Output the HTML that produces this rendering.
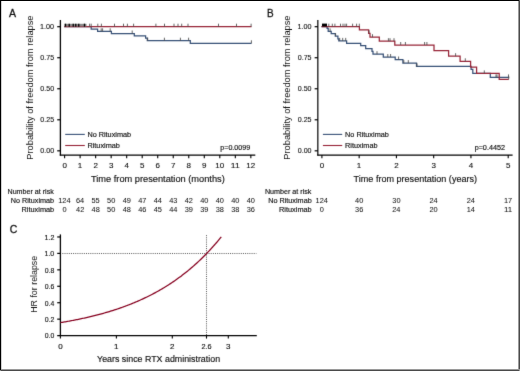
<!DOCTYPE html>
<html><head><meta charset="utf-8"><style>
html,body{margin:0;padding:0;background:#fff;}
body{width:520px;height:371px;overflow:hidden;font-family:"Liberation Sans",sans-serif;}
svg{display:block;}
</style></head><body>
<svg width="520" height="371" viewBox="0 0 520 371" font-family="Liberation Sans, sans-serif" style="will-change:transform">
<defs><filter id="bl" x="0" y="0" width="1" height="1" color-interpolation-filters="sRGB"><feConvolveMatrix order="3" kernelMatrix="0.01 0.07 0.01 0.07 0.68 0.07 0.01 0.07 0.01" edgeMode="duplicate"/></filter></defs>
<rect x="0" y="0" width="520" height="371" fill="#fff"/>
<g filter="url(#bl)">
<rect x="0" y="0" width="520" height="371" fill="#fff"/>
<line x1="60.40" y1="20.00" x2="60.40" y2="155.60" stroke="#000" stroke-width="1.3" />
<line x1="59.80" y1="155.07" x2="255.30" y2="155.07" stroke="#000" stroke-width="1.25" />
<line x1="57.20" y1="26.70" x2="60.40" y2="26.70" stroke="#000" stroke-width="1.2" />
<text x="40.05" y="28.80" font-size="8.0" text-anchor="start" fill="#111" stroke="#111" stroke-width="0.12" textLength="14.03" lengthAdjust="spacingAndGlyphs" >1.00</text>
<line x1="57.20" y1="57.73" x2="60.40" y2="57.73" stroke="#000" stroke-width="1.2" />
<text x="40.32" y="59.83" font-size="8.0" text-anchor="start" fill="#111" stroke="#111" stroke-width="0.12" textLength="13.77" lengthAdjust="spacingAndGlyphs" >0.75</text>
<line x1="57.20" y1="88.76" x2="60.40" y2="88.76" stroke="#000" stroke-width="1.2" />
<text x="40.32" y="90.86" font-size="8.0" text-anchor="start" fill="#111" stroke="#111" stroke-width="0.12" textLength="13.75" lengthAdjust="spacingAndGlyphs" >0.50</text>
<line x1="57.20" y1="119.79" x2="60.40" y2="119.79" stroke="#000" stroke-width="1.2" />
<text x="40.32" y="121.89" font-size="8.0" text-anchor="start" fill="#111" stroke="#111" stroke-width="0.12" textLength="13.77" lengthAdjust="spacingAndGlyphs" >0.25</text>
<line x1="57.20" y1="150.82" x2="60.40" y2="150.82" stroke="#000" stroke-width="1.2" />
<text x="40.32" y="152.92" font-size="8.0" text-anchor="start" fill="#111" stroke="#111" stroke-width="0.12" textLength="13.75" lengthAdjust="spacingAndGlyphs" >0.00</text>
<line x1="64.60" y1="155.00" x2="64.60" y2="158.20" stroke="#000" stroke-width="1.1" />
<text x="62.38" y="168.30" font-size="8.0" text-anchor="start" fill="#111" stroke="#111" stroke-width="0.12" textLength="4.45" lengthAdjust="spacingAndGlyphs" >0</text>
<line x1="80.12" y1="155.00" x2="80.12" y2="158.20" stroke="#000" stroke-width="1.1" />
<text x="77.79" y="168.30" font-size="8.0" text-anchor="start" fill="#111" stroke="#111" stroke-width="0.12" textLength="4.45" lengthAdjust="spacingAndGlyphs" >1</text>
<line x1="95.64" y1="155.00" x2="95.64" y2="158.20" stroke="#000" stroke-width="1.1" />
<text x="93.42" y="168.30" font-size="8.0" text-anchor="start" fill="#111" stroke="#111" stroke-width="0.12" textLength="4.45" lengthAdjust="spacingAndGlyphs" >2</text>
<line x1="111.16" y1="155.00" x2="111.16" y2="158.20" stroke="#000" stroke-width="1.1" />
<text x="108.96" y="168.30" font-size="8.0" text-anchor="start" fill="#111" stroke="#111" stroke-width="0.12" textLength="4.45" lengthAdjust="spacingAndGlyphs" >3</text>
<line x1="126.68" y1="155.00" x2="126.68" y2="158.20" stroke="#000" stroke-width="1.1" />
<text x="124.48" y="168.30" font-size="8.0" text-anchor="start" fill="#111" stroke="#111" stroke-width="0.12" textLength="4.45" lengthAdjust="spacingAndGlyphs" >4</text>
<line x1="142.20" y1="155.00" x2="142.20" y2="158.20" stroke="#000" stroke-width="1.1" />
<text x="139.98" y="168.30" font-size="8.0" text-anchor="start" fill="#111" stroke="#111" stroke-width="0.12" textLength="4.45" lengthAdjust="spacingAndGlyphs" >5</text>
<line x1="157.72" y1="155.00" x2="157.72" y2="158.20" stroke="#000" stroke-width="1.1" />
<text x="155.47" y="168.30" font-size="8.0" text-anchor="start" fill="#111" stroke="#111" stroke-width="0.12" textLength="4.45" lengthAdjust="spacingAndGlyphs" >6</text>
<line x1="173.24" y1="155.00" x2="173.24" y2="158.20" stroke="#000" stroke-width="1.1" />
<text x="171.01" y="168.30" font-size="8.0" text-anchor="start" fill="#111" stroke="#111" stroke-width="0.12" textLength="4.45" lengthAdjust="spacingAndGlyphs" >7</text>
<line x1="188.76" y1="155.00" x2="188.76" y2="158.20" stroke="#000" stroke-width="1.1" />
<text x="186.54" y="168.30" font-size="8.0" text-anchor="start" fill="#111" stroke="#111" stroke-width="0.12" textLength="4.45" lengthAdjust="spacingAndGlyphs" >8</text>
<line x1="204.28" y1="155.00" x2="204.28" y2="158.20" stroke="#000" stroke-width="1.1" />
<text x="202.06" y="168.30" font-size="8.0" text-anchor="start" fill="#111" stroke="#111" stroke-width="0.12" textLength="4.45" lengthAdjust="spacingAndGlyphs" >9</text>
<line x1="219.80" y1="155.00" x2="219.80" y2="158.20" stroke="#000" stroke-width="1.1" />
<text x="215.20" y="168.30" font-size="8.0" text-anchor="start" fill="#111" stroke="#111" stroke-width="0.12" textLength="8.90" lengthAdjust="spacingAndGlyphs" >10</text>
<line x1="235.32" y1="155.00" x2="235.32" y2="158.20" stroke="#000" stroke-width="1.1" />
<text x="230.76" y="168.30" font-size="8.0" text-anchor="start" fill="#111" stroke="#111" stroke-width="0.12" textLength="8.90" lengthAdjust="spacingAndGlyphs" >11</text>
<line x1="250.84" y1="155.00" x2="250.84" y2="158.20" stroke="#000" stroke-width="1.1" />
<text x="246.29" y="168.30" font-size="8.0" text-anchor="start" fill="#111" stroke="#111" stroke-width="0.12" textLength="8.90" lengthAdjust="spacingAndGlyphs" >12</text>
<text x="90.99" y="181.60" font-size="9.5" text-anchor="start" fill="#111" stroke="#111" stroke-width="0.16" textLength="133.78" lengthAdjust="spacingAndGlyphs" >Time from presentation (months)</text>
<text x="-0.76" y="0" font-size="9.3" fill="#111" textLength="144.17" lengthAdjust="spacingAndGlyphs" transform="translate(32.7,158.9) rotate(-90)">Probability of freedom from relapse</text>
<text x="8.88" y="17.00" font-size="11.4" text-anchor="start" fill="#111" stroke="#111" stroke-width="0.3" textLength="7.04" lengthAdjust="spacingAndGlyphs" >A</text>
<line x1="65.20" y1="134.40" x2="84.80" y2="134.40" stroke="#375076" stroke-width="1.1" />
<line x1="65.20" y1="145.50" x2="84.80" y2="145.50" stroke="#972437" stroke-width="1.1" />
<text x="87.40" y="136.60" font-size="7.3" text-anchor="start" fill="#111" stroke="#111" stroke-width="0.16" textLength="43.70" lengthAdjust="spacingAndGlyphs" >No Rituximab</text>
<text x="87.40" y="147.70" font-size="7.3" text-anchor="start" fill="#111" stroke="#111" stroke-width="0.16" textLength="32.51" lengthAdjust="spacingAndGlyphs" >Rituximab</text>
<text x="220.24" y="150.40" font-size="7.3" text-anchor="start" fill="#111" stroke="#111" stroke-width="0.16" textLength="30.00" lengthAdjust="spacingAndGlyphs" >p=0.0099</text>
<text x="7.52" y="193.50" font-size="7.4" text-anchor="start" fill="#111" stroke="#111" stroke-width="0.16" textLength="46.27" lengthAdjust="spacingAndGlyphs" >Number at risk</text>
<text x="10.81" y="202.50" font-size="7.4" text-anchor="start" fill="#111" stroke="#111" stroke-width="0.16" textLength="43.29" lengthAdjust="spacingAndGlyphs" >No Rituximab</text>
<text x="21.60" y="211.50" font-size="7.4" text-anchor="start" fill="#111" stroke="#111" stroke-width="0.16" textLength="32.51" lengthAdjust="spacingAndGlyphs" >Rituximab</text>
<text x="58.25" y="202.50" font-size="7.4" text-anchor="start" fill="#111" stroke="#111" stroke-width="0.04" textLength="12.35" lengthAdjust="spacingAndGlyphs" >124</text>
<text x="75.92" y="202.50" font-size="7.4" text-anchor="start" fill="#111" stroke="#111" stroke-width="0.04" textLength="8.23" lengthAdjust="spacingAndGlyphs" >64</text>
<text x="91.53" y="202.50" font-size="7.4" text-anchor="start" fill="#111" stroke="#111" stroke-width="0.04" textLength="8.23" lengthAdjust="spacingAndGlyphs" >55</text>
<text x="107.04" y="202.50" font-size="7.4" text-anchor="start" fill="#111" stroke="#111" stroke-width="0.04" textLength="8.23" lengthAdjust="spacingAndGlyphs" >50</text>
<text x="122.65" y="202.50" font-size="7.4" text-anchor="start" fill="#111" stroke="#111" stroke-width="0.04" textLength="8.23" lengthAdjust="spacingAndGlyphs" >49</text>
<text x="138.19" y="202.50" font-size="7.4" text-anchor="start" fill="#111" stroke="#111" stroke-width="0.04" textLength="8.23" lengthAdjust="spacingAndGlyphs" >47</text>
<text x="153.63" y="202.50" font-size="7.4" text-anchor="start" fill="#111" stroke="#111" stroke-width="0.04" textLength="8.23" lengthAdjust="spacingAndGlyphs" >44</text>
<text x="169.20" y="202.50" font-size="7.4" text-anchor="start" fill="#111" stroke="#111" stroke-width="0.04" textLength="8.23" lengthAdjust="spacingAndGlyphs" >43</text>
<text x="184.75" y="202.50" font-size="7.4" text-anchor="start" fill="#111" stroke="#111" stroke-width="0.04" textLength="8.23" lengthAdjust="spacingAndGlyphs" >42</text>
<text x="200.22" y="202.50" font-size="7.4" text-anchor="start" fill="#111" stroke="#111" stroke-width="0.04" textLength="8.23" lengthAdjust="spacingAndGlyphs" >40</text>
<text x="215.74" y="202.50" font-size="7.4" text-anchor="start" fill="#111" stroke="#111" stroke-width="0.04" textLength="8.23" lengthAdjust="spacingAndGlyphs" >40</text>
<text x="231.26" y="202.50" font-size="7.4" text-anchor="start" fill="#111" stroke="#111" stroke-width="0.04" textLength="8.23" lengthAdjust="spacingAndGlyphs" >40</text>
<text x="246.78" y="202.50" font-size="7.4" text-anchor="start" fill="#111" stroke="#111" stroke-width="0.04" textLength="8.23" lengthAdjust="spacingAndGlyphs" >40</text>
<text x="62.54" y="211.50" font-size="7.4" text-anchor="start" fill="#111" stroke="#111" stroke-width="0.04" textLength="4.12" lengthAdjust="spacingAndGlyphs" >0</text>
<text x="76.11" y="211.50" font-size="7.4" text-anchor="start" fill="#111" stroke="#111" stroke-width="0.04" textLength="8.23" lengthAdjust="spacingAndGlyphs" >42</text>
<text x="91.60" y="211.50" font-size="7.4" text-anchor="start" fill="#111" stroke="#111" stroke-width="0.04" textLength="8.23" lengthAdjust="spacingAndGlyphs" >48</text>
<text x="107.04" y="211.50" font-size="7.4" text-anchor="start" fill="#111" stroke="#111" stroke-width="0.04" textLength="8.23" lengthAdjust="spacingAndGlyphs" >50</text>
<text x="122.64" y="211.50" font-size="7.4" text-anchor="start" fill="#111" stroke="#111" stroke-width="0.04" textLength="8.23" lengthAdjust="spacingAndGlyphs" >48</text>
<text x="138.16" y="211.50" font-size="7.4" text-anchor="start" fill="#111" stroke="#111" stroke-width="0.04" textLength="8.23" lengthAdjust="spacingAndGlyphs" >46</text>
<text x="153.67" y="211.50" font-size="7.4" text-anchor="start" fill="#111" stroke="#111" stroke-width="0.04" textLength="8.23" lengthAdjust="spacingAndGlyphs" >45</text>
<text x="169.15" y="211.50" font-size="7.4" text-anchor="start" fill="#111" stroke="#111" stroke-width="0.04" textLength="8.23" lengthAdjust="spacingAndGlyphs" >44</text>
<text x="184.68" y="211.50" font-size="7.4" text-anchor="start" fill="#111" stroke="#111" stroke-width="0.04" textLength="8.23" lengthAdjust="spacingAndGlyphs" >39</text>
<text x="200.20" y="211.50" font-size="7.4" text-anchor="start" fill="#111" stroke="#111" stroke-width="0.04" textLength="8.23" lengthAdjust="spacingAndGlyphs" >39</text>
<text x="215.70" y="211.50" font-size="7.4" text-anchor="start" fill="#111" stroke="#111" stroke-width="0.04" textLength="8.23" lengthAdjust="spacingAndGlyphs" >38</text>
<text x="231.22" y="211.50" font-size="7.4" text-anchor="start" fill="#111" stroke="#111" stroke-width="0.04" textLength="8.23" lengthAdjust="spacingAndGlyphs" >38</text>
<text x="246.75" y="211.50" font-size="7.4" text-anchor="start" fill="#111" stroke="#111" stroke-width="0.04" textLength="8.23" lengthAdjust="spacingAndGlyphs" >36</text>
<path d="M64.2,26.7 H91.2 V29.1 H97.6 V31.3 H111.4 V33.5 H134.3 V35.8 H145.6 V38.1 H147.3 V40.7 H190.3 V43.3 H251.5" fill="none" stroke="#375076" stroke-width="1.25"/>
<path d="M64.2,26.7 H251.5" fill="none" stroke="#972437" stroke-width="1.25"/>
<rect x="64.3" y="23.8" width="22.2" height="2.6" fill="#8a8a8a"/>
<line x1="65.50" y1="23.70" x2="65.50" y2="26.70" stroke="#000" stroke-width="1.3" />
<line x1="69.25" y1="23.70" x2="69.25" y2="26.70" stroke="#000" stroke-width="1.3" />
<line x1="73.25" y1="23.70" x2="73.25" y2="26.70" stroke="#000" stroke-width="1.3" />
<line x1="75.75" y1="23.70" x2="75.75" y2="26.70" stroke="#000" stroke-width="1.3" />
<line x1="78.75" y1="23.70" x2="78.75" y2="26.70" stroke="#000" stroke-width="1.3" />
<line x1="84.50" y1="23.70" x2="84.50" y2="26.70" stroke="#000" stroke-width="1.3" />
<line x1="89.60" y1="23.70" x2="89.60" y2="26.70" stroke="#4a4a4a" stroke-width="0.85" />
<line x1="91.20" y1="23.70" x2="91.20" y2="26.70" stroke="#4a4a4a" stroke-width="0.85" />
<line x1="97.80" y1="23.70" x2="97.80" y2="26.70" stroke="#4a4a4a" stroke-width="0.85" />
<line x1="101.40" y1="23.70" x2="101.40" y2="26.70" stroke="#4a4a4a" stroke-width="0.85" />
<line x1="114.50" y1="23.70" x2="114.50" y2="26.70" stroke="#4a4a4a" stroke-width="0.85" />
<line x1="123.50" y1="23.70" x2="123.50" y2="26.70" stroke="#4a4a4a" stroke-width="0.85" />
<line x1="127.40" y1="23.70" x2="127.40" y2="26.70" stroke="#4a4a4a" stroke-width="0.85" />
<line x1="133.60" y1="23.70" x2="133.60" y2="26.70" stroke="#4a4a4a" stroke-width="0.85" />
<line x1="155.90" y1="23.70" x2="155.90" y2="26.70" stroke="#4a4a4a" stroke-width="0.85" />
<line x1="164.50" y1="23.70" x2="164.50" y2="26.70" stroke="#4a4a4a" stroke-width="0.85" />
<line x1="174.00" y1="23.70" x2="174.00" y2="26.70" stroke="#4a4a4a" stroke-width="0.85" />
<line x1="178.00" y1="23.70" x2="178.00" y2="26.70" stroke="#4a4a4a" stroke-width="0.85" />
<line x1="181.70" y1="23.70" x2="181.70" y2="26.70" stroke="#4a4a4a" stroke-width="0.85" />
<line x1="188.00" y1="23.70" x2="188.00" y2="26.70" stroke="#4a4a4a" stroke-width="0.85" />
<line x1="218.50" y1="23.70" x2="218.50" y2="26.70" stroke="#4a4a4a" stroke-width="0.85" />
<line x1="236.50" y1="23.70" x2="236.50" y2="26.70" stroke="#4a4a4a" stroke-width="0.85" />
<line x1="251.10" y1="23.70" x2="251.10" y2="26.70" stroke="#4a4a4a" stroke-width="0.85" />
<line x1="101.20" y1="28.30" x2="101.20" y2="31.30" stroke="#4a4a4a" stroke-width="0.85" />
<line x1="102.60" y1="28.30" x2="102.60" y2="31.30" stroke="#4a4a4a" stroke-width="0.85" />
<line x1="110.20" y1="28.30" x2="110.20" y2="31.30" stroke="#4a4a4a" stroke-width="0.85" />
<line x1="132.20" y1="30.50" x2="132.20" y2="33.50" stroke="#4a4a4a" stroke-width="0.85" />
<line x1="147.70" y1="37.70" x2="147.70" y2="40.70" stroke="#4a4a4a" stroke-width="0.85" />
<line x1="164.40" y1="37.70" x2="164.40" y2="40.70" stroke="#4a4a4a" stroke-width="0.85" />
<line x1="180.40" y1="37.70" x2="180.40" y2="40.70" stroke="#4a4a4a" stroke-width="0.85" />
<line x1="188.60" y1="37.70" x2="188.60" y2="40.70" stroke="#4a4a4a" stroke-width="0.85" />
<line x1="251.40" y1="40.30" x2="251.40" y2="43.30" stroke="#4a4a4a" stroke-width="0.85" />
<line x1="317.84" y1="20.00" x2="317.84" y2="155.60" stroke="#000" stroke-width="1.2" />
<line x1="317.24" y1="155.07" x2="512.60" y2="155.07" stroke="#000" stroke-width="1.25" />
<line x1="314.64" y1="26.70" x2="317.84" y2="26.70" stroke="#000" stroke-width="1.2" />
<text x="297.49" y="28.80" font-size="8.0" text-anchor="start" fill="#111" stroke="#111" stroke-width="0.12" textLength="14.03" lengthAdjust="spacingAndGlyphs" >1.00</text>
<line x1="314.64" y1="57.73" x2="317.84" y2="57.73" stroke="#000" stroke-width="1.2" />
<text x="297.76" y="59.83" font-size="8.0" text-anchor="start" fill="#111" stroke="#111" stroke-width="0.12" textLength="13.77" lengthAdjust="spacingAndGlyphs" >0.75</text>
<line x1="314.64" y1="88.76" x2="317.84" y2="88.76" stroke="#000" stroke-width="1.2" />
<text x="297.76" y="90.86" font-size="8.0" text-anchor="start" fill="#111" stroke="#111" stroke-width="0.12" textLength="13.75" lengthAdjust="spacingAndGlyphs" >0.50</text>
<line x1="314.64" y1="119.79" x2="317.84" y2="119.79" stroke="#000" stroke-width="1.2" />
<text x="297.76" y="121.89" font-size="8.0" text-anchor="start" fill="#111" stroke="#111" stroke-width="0.12" textLength="13.77" lengthAdjust="spacingAndGlyphs" >0.25</text>
<line x1="314.64" y1="150.82" x2="317.84" y2="150.82" stroke="#000" stroke-width="1.2" />
<text x="297.76" y="152.92" font-size="8.0" text-anchor="start" fill="#111" stroke="#111" stroke-width="0.12" textLength="13.75" lengthAdjust="spacingAndGlyphs" >0.00</text>
<line x1="321.90" y1="155.00" x2="321.90" y2="158.20" stroke="#000" stroke-width="1.1" />
<text x="319.68" y="168.30" font-size="8.0" text-anchor="start" fill="#111" stroke="#111" stroke-width="0.12" textLength="4.45" lengthAdjust="spacingAndGlyphs" >0</text>
<line x1="359.16" y1="155.00" x2="359.16" y2="158.20" stroke="#000" stroke-width="1.1" />
<text x="356.83" y="168.30" font-size="8.0" text-anchor="start" fill="#111" stroke="#111" stroke-width="0.12" textLength="4.45" lengthAdjust="spacingAndGlyphs" >1</text>
<line x1="396.42" y1="155.00" x2="396.42" y2="158.20" stroke="#000" stroke-width="1.1" />
<text x="394.20" y="168.30" font-size="8.0" text-anchor="start" fill="#111" stroke="#111" stroke-width="0.12" textLength="4.45" lengthAdjust="spacingAndGlyphs" >2</text>
<line x1="433.68" y1="155.00" x2="433.68" y2="158.20" stroke="#000" stroke-width="1.1" />
<text x="431.48" y="168.30" font-size="8.0" text-anchor="start" fill="#111" stroke="#111" stroke-width="0.12" textLength="4.45" lengthAdjust="spacingAndGlyphs" >3</text>
<line x1="470.94" y1="155.00" x2="470.94" y2="158.20" stroke="#000" stroke-width="1.1" />
<text x="468.74" y="168.30" font-size="8.0" text-anchor="start" fill="#111" stroke="#111" stroke-width="0.12" textLength="4.45" lengthAdjust="spacingAndGlyphs" >4</text>
<line x1="508.20" y1="155.00" x2="508.20" y2="158.20" stroke="#000" stroke-width="1.1" />
<text x="505.98" y="168.30" font-size="8.0" text-anchor="start" fill="#111" stroke="#111" stroke-width="0.12" textLength="4.45" lengthAdjust="spacingAndGlyphs" >5</text>
<text x="353.60" y="181.60" font-size="9.5" text-anchor="start" fill="#111" stroke="#111" stroke-width="0.16" textLength="123.46" lengthAdjust="spacingAndGlyphs" >Time from presentation (years)</text>
<text x="-0.76" y="0" font-size="9.3" fill="#111" textLength="144.17" lengthAdjust="spacingAndGlyphs" transform="translate(289.9,158.9) rotate(-90)">Probability of freedom from relapse</text>
<text x="266.98" y="16.80" font-size="11.4" text-anchor="start" fill="#111" stroke="#111" stroke-width="0.3" textLength="6.64" lengthAdjust="spacingAndGlyphs" >B</text>
<line x1="322.90" y1="134.40" x2="342.20" y2="134.40" stroke="#375076" stroke-width="1.1" />
<line x1="322.90" y1="145.50" x2="342.20" y2="145.50" stroke="#972437" stroke-width="1.1" />
<text x="345.10" y="136.60" font-size="7.3" text-anchor="start" fill="#111" stroke="#111" stroke-width="0.16" textLength="43.70" lengthAdjust="spacingAndGlyphs" >No Rituximab</text>
<text x="345.10" y="147.70" font-size="7.3" text-anchor="start" fill="#111" stroke="#111" stroke-width="0.16" textLength="32.51" lengthAdjust="spacingAndGlyphs" >Rituximab</text>
<text x="474.63" y="150.40" font-size="7.3" text-anchor="start" fill="#111" stroke="#111" stroke-width="0.16" textLength="30.33" lengthAdjust="spacingAndGlyphs" >p=0.4452</text>
<text x="264.91" y="193.50" font-size="7.4" text-anchor="start" fill="#111" stroke="#111" stroke-width="0.16" textLength="46.48" lengthAdjust="spacingAndGlyphs" >Number at risk</text>
<text x="268.21" y="202.50" font-size="7.4" text-anchor="start" fill="#111" stroke="#111" stroke-width="0.16" textLength="43.50" lengthAdjust="spacingAndGlyphs" >No Rituximab</text>
<text x="279.00" y="211.50" font-size="7.4" text-anchor="start" fill="#111" stroke="#111" stroke-width="0.16" textLength="32.71" lengthAdjust="spacingAndGlyphs" >Rituximab</text>
<text x="315.55" y="202.50" font-size="7.4" text-anchor="start" fill="#111" stroke="#111" stroke-width="0.04" textLength="12.35" lengthAdjust="spacingAndGlyphs" >124</text>
<text x="355.10" y="202.50" font-size="7.4" text-anchor="start" fill="#111" stroke="#111" stroke-width="0.04" textLength="8.23" lengthAdjust="spacingAndGlyphs" >40</text>
<text x="392.31" y="202.50" font-size="7.4" text-anchor="start" fill="#111" stroke="#111" stroke-width="0.04" textLength="8.23" lengthAdjust="spacingAndGlyphs" >30</text>
<text x="429.49" y="202.50" font-size="7.4" text-anchor="start" fill="#111" stroke="#111" stroke-width="0.04" textLength="8.23" lengthAdjust="spacingAndGlyphs" >24</text>
<text x="466.75" y="202.50" font-size="7.4" text-anchor="start" fill="#111" stroke="#111" stroke-width="0.04" textLength="8.23" lengthAdjust="spacingAndGlyphs" >24</text>
<text x="503.99" y="202.50" font-size="7.4" text-anchor="start" fill="#111" stroke="#111" stroke-width="0.04" textLength="8.23" lengthAdjust="spacingAndGlyphs" >17</text>
<text x="319.84" y="211.50" font-size="7.4" text-anchor="start" fill="#111" stroke="#111" stroke-width="0.04" textLength="4.12" lengthAdjust="spacingAndGlyphs" >0</text>
<text x="355.07" y="211.50" font-size="7.4" text-anchor="start" fill="#111" stroke="#111" stroke-width="0.04" textLength="8.23" lengthAdjust="spacingAndGlyphs" >36</text>
<text x="392.23" y="211.50" font-size="7.4" text-anchor="start" fill="#111" stroke="#111" stroke-width="0.04" textLength="8.23" lengthAdjust="spacingAndGlyphs" >24</text>
<text x="429.52" y="211.50" font-size="7.4" text-anchor="start" fill="#111" stroke="#111" stroke-width="0.04" textLength="8.23" lengthAdjust="spacingAndGlyphs" >20</text>
<text x="466.65" y="211.50" font-size="7.4" text-anchor="start" fill="#111" stroke="#111" stroke-width="0.04" textLength="8.23" lengthAdjust="spacingAndGlyphs" >14</text>
<text x="503.98" y="211.50" font-size="7.4" text-anchor="start" fill="#111" stroke="#111" stroke-width="0.04" textLength="8.23" lengthAdjust="spacingAndGlyphs" >11</text>
<path d="M321.5,26.7 H327.1 V28.4 H328.2 V31.4 H331.2 V33.6 H335.3 V36.2 H337.9 V38.8 H338.8 V40.9 H346.6 V43.3 H360.7 V45.7 H365.7 V48.5 H372.0 V51.4 H373.0 V54.2 H383.3 V57.0 H395.2 V59.5 H402.9 V63.1 H416.5 V66.4 H471.1 V69.4 H472.8 V73.4 H490.3 V77.4 H509.2" fill="none" stroke="#375076" stroke-width="1.25"/>
<path d="M321.5,26.7 H359.4 V29.9 H368.6 V33.3 H370.0 V37.2 H379.3 V41.2 H394.8 V45.0 H434.0 V50.7 H448.6 V56.2 H460.1 V61.3 H470.6 V67.1 H476.6 V73.4 H499.2 V79.3 H508.8" fill="none" stroke="#972437" stroke-width="1.25"/>
<rect x="322" y="23.599999999999998" width="5" height="2.9" fill="#000"/>
<line x1="328.80" y1="23.70" x2="328.80" y2="26.70" stroke="#4a4a4a" stroke-width="0.85" />
<line x1="332.30" y1="23.70" x2="332.30" y2="26.70" stroke="#4a4a4a" stroke-width="0.85" />
<line x1="334.90" y1="23.70" x2="334.90" y2="26.70" stroke="#4a4a4a" stroke-width="0.85" />
<line x1="340.50" y1="23.70" x2="340.50" y2="26.70" stroke="#4a4a4a" stroke-width="0.85" />
<line x1="343.00" y1="23.70" x2="343.00" y2="26.70" stroke="#4a4a4a" stroke-width="0.85" />
<line x1="345.00" y1="23.70" x2="345.00" y2="26.70" stroke="#4a4a4a" stroke-width="0.85" />
<line x1="346.60" y1="23.70" x2="346.60" y2="26.70" stroke="#4a4a4a" stroke-width="0.85" />
<line x1="352.60" y1="23.70" x2="352.60" y2="26.70" stroke="#4a4a4a" stroke-width="0.85" />
<line x1="356.60" y1="23.70" x2="356.60" y2="26.70" stroke="#4a4a4a" stroke-width="0.85" />
<line x1="359.30" y1="23.70" x2="359.30" y2="26.70" stroke="#4a4a4a" stroke-width="0.85" />
<line x1="369.10" y1="30.30" x2="369.10" y2="33.30" stroke="#4a4a4a" stroke-width="0.85" />
<line x1="372.50" y1="34.20" x2="372.50" y2="37.20" stroke="#4a4a4a" stroke-width="0.85" />
<line x1="388.40" y1="38.20" x2="388.40" y2="41.20" stroke="#4a4a4a" stroke-width="0.85" />
<line x1="390.00" y1="38.20" x2="390.00" y2="41.20" stroke="#4a4a4a" stroke-width="0.85" />
<line x1="394.00" y1="38.20" x2="394.00" y2="41.20" stroke="#4a4a4a" stroke-width="0.85" />
<line x1="400.70" y1="42.00" x2="400.70" y2="45.00" stroke="#4a4a4a" stroke-width="0.85" />
<line x1="405.40" y1="42.00" x2="405.40" y2="45.00" stroke="#4a4a4a" stroke-width="0.85" />
<line x1="424.60" y1="42.00" x2="424.60" y2="45.00" stroke="#4a4a4a" stroke-width="0.85" />
<line x1="426.90" y1="42.00" x2="426.90" y2="45.00" stroke="#4a4a4a" stroke-width="0.85" />
<line x1="455.60" y1="53.20" x2="455.60" y2="56.20" stroke="#4a4a4a" stroke-width="0.85" />
<line x1="465.30" y1="58.30" x2="465.30" y2="61.30" stroke="#4a4a4a" stroke-width="0.85" />
<line x1="484.30" y1="70.40" x2="484.30" y2="73.40" stroke="#4a4a4a" stroke-width="0.85" />
<line x1="508.70" y1="76.30" x2="508.70" y2="79.30" stroke="#4a4a4a" stroke-width="0.85" />
<line x1="330.10" y1="28.40" x2="330.10" y2="31.40" stroke="#4a4a4a" stroke-width="0.85" />
<line x1="335.60" y1="33.20" x2="335.60" y2="36.20" stroke="#4a4a4a" stroke-width="0.85" />
<line x1="339.70" y1="37.90" x2="339.70" y2="40.90" stroke="#4a4a4a" stroke-width="0.85" />
<line x1="342.70" y1="37.90" x2="342.70" y2="40.90" stroke="#4a4a4a" stroke-width="0.85" />
<line x1="345.70" y1="37.90" x2="345.70" y2="40.90" stroke="#4a4a4a" stroke-width="0.85" />
<line x1="377.00" y1="51.20" x2="377.00" y2="54.20" stroke="#4a4a4a" stroke-width="0.85" />
<line x1="387.80" y1="54.00" x2="387.80" y2="57.00" stroke="#4a4a4a" stroke-width="0.85" />
<line x1="390.60" y1="54.00" x2="390.60" y2="57.00" stroke="#4a4a4a" stroke-width="0.85" />
<line x1="398.60" y1="56.50" x2="398.60" y2="59.50" stroke="#4a4a4a" stroke-width="0.85" />
<line x1="403.80" y1="60.10" x2="403.80" y2="63.10" stroke="#4a4a4a" stroke-width="0.85" />
<line x1="408.30" y1="60.10" x2="408.30" y2="63.10" stroke="#4a4a4a" stroke-width="0.85" />
<line x1="417.00" y1="63.40" x2="417.00" y2="66.40" stroke="#4a4a4a" stroke-width="0.85" />
<line x1="496.00" y1="74.40" x2="496.00" y2="77.40" stroke="#4a4a4a" stroke-width="0.85" />
<line x1="497.00" y1="74.40" x2="497.00" y2="77.40" stroke="#4a4a4a" stroke-width="0.85" />
<line x1="508.50" y1="74.40" x2="508.50" y2="77.40" stroke="#4a4a4a" stroke-width="0.85" />
<line x1="60.40" y1="234.40" x2="60.40" y2="336.20" stroke="#000" stroke-width="1.3" />
<line x1="57.20" y1="335.60" x2="256.80" y2="335.60" stroke="#000" stroke-width="1.4" />
<text x="44.73" y="338.40" font-size="8.0" text-anchor="start" fill="#111" stroke="#111" stroke-width="0.15" textLength="9.54" lengthAdjust="spacingAndGlyphs" >0.0</text>
<line x1="57.20" y1="319.16" x2="60.40" y2="319.16" stroke="#000" stroke-width="1.2" />
<text x="44.73" y="321.96" font-size="8.0" text-anchor="start" fill="#111" stroke="#111" stroke-width="0.15" textLength="9.62" lengthAdjust="spacingAndGlyphs" >0.2</text>
<line x1="57.20" y1="302.72" x2="60.40" y2="302.72" stroke="#000" stroke-width="1.2" />
<text x="44.73" y="305.52" font-size="8.0" text-anchor="start" fill="#111" stroke="#111" stroke-width="0.15" textLength="9.47" lengthAdjust="spacingAndGlyphs" >0.4</text>
<line x1="57.20" y1="286.28" x2="60.40" y2="286.28" stroke="#000" stroke-width="1.2" />
<text x="44.73" y="289.08" font-size="8.0" text-anchor="start" fill="#111" stroke="#111" stroke-width="0.15" textLength="9.57" lengthAdjust="spacingAndGlyphs" >0.6</text>
<line x1="57.20" y1="269.84" x2="60.40" y2="269.84" stroke="#000" stroke-width="1.2" />
<text x="44.73" y="272.64" font-size="8.0" text-anchor="start" fill="#111" stroke="#111" stroke-width="0.15" textLength="9.57" lengthAdjust="spacingAndGlyphs" >0.8</text>
<line x1="57.20" y1="253.40" x2="60.40" y2="253.40" stroke="#000" stroke-width="1.2" />
<text x="44.46" y="256.20" font-size="8.0" text-anchor="start" fill="#111" stroke="#111" stroke-width="0.15" textLength="9.81" lengthAdjust="spacingAndGlyphs" >1.0</text>
<line x1="57.20" y1="236.96" x2="60.40" y2="236.96" stroke="#000" stroke-width="1.2" />
<text x="44.46" y="239.76" font-size="8.0" text-anchor="start" fill="#111" stroke="#111" stroke-width="0.15" textLength="9.90" lengthAdjust="spacingAndGlyphs" >1.2</text>
<line x1="60.40" y1="335.60" x2="60.40" y2="338.60" stroke="#000" stroke-width="1.1" />
<text x="58.18" y="348.80" font-size="8.0" text-anchor="start" fill="#111" stroke="#111" stroke-width="0.15" textLength="4.45" lengthAdjust="spacingAndGlyphs" >0</text>
<line x1="116.40" y1="335.60" x2="116.40" y2="338.60" stroke="#000" stroke-width="1.1" />
<text x="114.07" y="348.80" font-size="8.0" text-anchor="start" fill="#111" stroke="#111" stroke-width="0.15" textLength="4.45" lengthAdjust="spacingAndGlyphs" >1</text>
<line x1="172.30" y1="335.60" x2="172.30" y2="338.60" stroke="#000" stroke-width="1.1" />
<text x="170.08" y="348.80" font-size="8.0" text-anchor="start" fill="#111" stroke="#111" stroke-width="0.15" textLength="4.45" lengthAdjust="spacingAndGlyphs" >2</text>
<line x1="206.50" y1="335.60" x2="206.50" y2="338.60" stroke="#000" stroke-width="1.1" />
<text x="201.38" y="348.80" font-size="8.0" text-anchor="start" fill="#111" stroke="#111" stroke-width="0.15" textLength="10.19" lengthAdjust="spacingAndGlyphs" >2.6</text>
<line x1="228.30" y1="335.60" x2="228.30" y2="338.60" stroke="#000" stroke-width="1.1" />
<text x="226.10" y="348.80" font-size="8.0" text-anchor="start" fill="#111" stroke="#111" stroke-width="0.15" textLength="4.45" lengthAdjust="spacingAndGlyphs" >3</text>
<line x1="62.35" y1="253.5" x2="256.4" y2="253.5" stroke="#5a5a5a" stroke-width="1" stroke-dasharray="1 1.15"/>
<line x1="206.5" y1="235.15" x2="206.5" y2="335.6" stroke="#5a5a5a" stroke-width="1" stroke-dasharray="1 1.15"/>
<path d="M60.40,322.63 L61.40,322.47 L62.40,322.30 L63.40,322.13 L64.40,321.96 L65.40,321.79 L66.40,321.61 L67.40,321.43 L68.40,321.25 L69.40,321.07 L70.40,320.89 L71.40,320.70 L72.40,320.51 L73.40,320.32 L74.40,320.12 L75.40,319.93 L76.40,319.73 L77.40,319.53 L78.40,319.32 L79.40,319.12 L80.40,318.91 L81.40,318.70 L82.40,318.48 L83.40,318.26 L84.40,318.04 L85.40,317.82 L86.40,317.59 L87.40,317.37 L88.40,317.13 L89.40,316.90 L90.40,316.66 L91.40,316.42 L92.40,316.18 L93.40,315.93 L94.40,315.68 L95.40,315.43 L96.40,315.17 L97.40,314.91 L98.40,314.65 L99.40,314.38 L100.40,314.11 L101.40,313.84 L102.40,313.57 L103.40,313.29 L104.40,313.00 L105.40,312.71 L106.40,312.42 L107.40,312.13 L108.40,311.83 L109.40,311.53 L110.40,311.22 L111.40,310.91 L112.40,310.60 L113.40,310.28 L114.40,309.96 L115.40,309.64 L116.40,309.31 L117.40,308.97 L118.40,308.63 L119.40,308.29 L120.40,307.95 L121.40,307.59 L122.40,307.24 L123.40,306.88 L124.40,306.51 L125.40,306.14 L126.40,305.77 L127.40,305.39 L128.40,305.01 L129.40,304.62 L130.40,304.23 L131.40,303.83 L132.40,303.42 L133.40,303.01 L134.40,302.60 L135.40,302.18 L136.40,301.76 L137.40,301.33 L138.40,300.89 L139.40,300.45 L140.40,300.01 L141.40,299.55 L142.40,299.10 L143.40,298.63 L144.40,298.16 L145.40,297.69 L146.40,297.21 L147.40,296.72 L148.40,296.22 L149.40,295.72 L150.40,295.22 L151.40,294.70 L152.40,294.18 L153.40,293.66 L154.40,293.13 L155.40,292.59 L156.40,292.04 L157.40,291.49 L158.40,290.93 L159.40,290.36 L160.40,289.79 L161.40,289.20 L162.40,288.61 L163.40,288.02 L164.40,287.41 L165.40,286.80 L166.40,286.18 L167.40,285.55 L168.40,284.92 L169.40,284.27 L170.40,283.62 L171.40,282.96 L172.40,282.29 L173.40,281.62 L174.40,280.93 L175.40,280.24 L176.40,279.53 L177.40,278.82 L178.40,278.10 L179.40,277.37 L180.40,276.63 L181.40,275.88 L182.40,275.12 L183.40,274.36 L184.40,273.58 L185.40,272.79 L186.40,271.99 L187.40,271.18 L188.40,270.37 L189.40,269.54 L190.40,268.70 L191.40,267.85 L192.40,266.99 L193.40,266.12 L194.40,265.23 L195.40,264.34 L196.40,263.44 L197.40,262.52 L198.40,261.59 L199.40,260.65 L200.40,259.70 L201.40,258.74 L202.40,257.76 L203.40,256.77 L204.40,255.77 L205.40,254.76 L206.40,253.73 L207.40,252.69 L208.40,251.64 L209.40,250.57 L210.40,249.49 L211.40,248.40 L212.40,247.29 L213.40,246.17 L214.40,245.03 L215.40,243.88 L216.40,242.72 L217.40,241.54 L218.40,240.34 L219.40,239.13 L220.40,237.91 L221.30,236.79" fill="none" stroke="#86001f" stroke-width="1.25"/>
<text x="97.11" y="361.80" font-size="8.9" text-anchor="start" fill="#111" stroke="#111" stroke-width="0.16" textLength="122.96" lengthAdjust="spacingAndGlyphs" >Years since RTX administration</text>
<text x="-0.73" y="0" font-size="8.4" fill="#111" textLength="57.02" lengthAdjust="spacingAndGlyphs" transform="translate(37.0,312.1) rotate(-90)">HR for relapse</text>
<text x="9.77" y="232.80" font-size="11.6" text-anchor="start" fill="#111" stroke="#111" stroke-width="0.3" textLength="7.53" lengthAdjust="spacingAndGlyphs" >C</text>
</g>
<rect x="518" y="0" width="1" height="371" fill="#9a9a9a"/>
<rect x="519" y="0" width="1" height="371" fill="#4a4a4a"/>
<rect x="0" y="369" width="520" height="1" fill="#9a9a9a"/>
<rect x="0" y="370" width="520" height="1" fill="#4a4a4a"/>
<rect x="0" y="0" width="519" height="1" fill="#000"/>
<rect x="0" y="0" width="1" height="370" fill="#000"/>
<rect x="1" y="1" width="1" height="368" fill="#000" fill-opacity="0.18"/>
<rect x="519" y="0" width="1" height="1" fill="#666"/>
<rect x="0" y="370" width="1" height="1" fill="#888"/>
<rect x="519" y="370" width="1" height="1" fill="#999"/>
</svg>
</body></html>
